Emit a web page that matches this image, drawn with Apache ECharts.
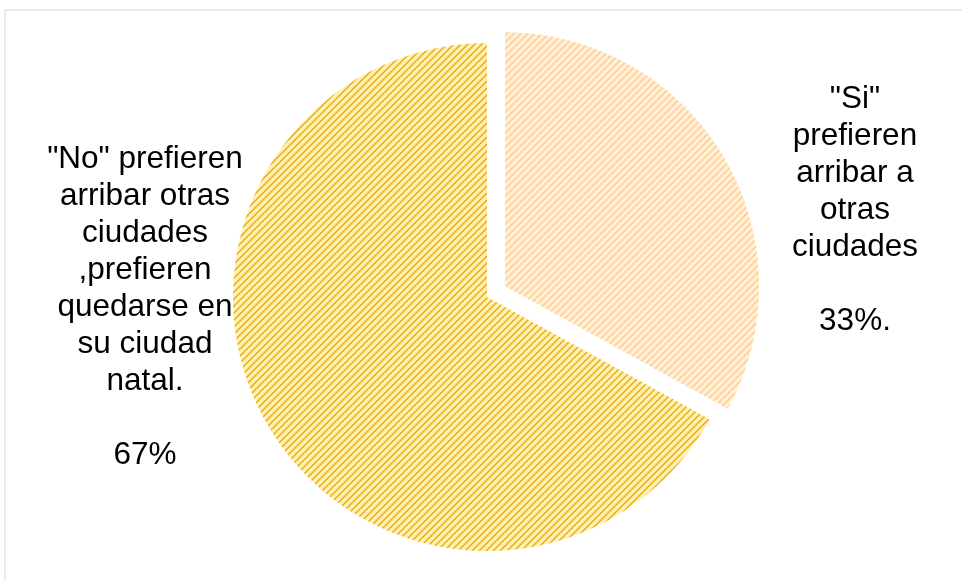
<!DOCTYPE html>
<html>
<head>
<meta charset="utf-8">
<script src="https://cdn.jsdelivr.net/npm/echarts@6/dist/echarts.min.js"></script>
<style>html,body{margin:0;padding:0;background:#fff;}#c{width:962px;height:581px;}</style>
</head>
<body>
<div id="c"></div>
<script>
var categories = ['"Si" prefieren arribar a otras ciudades', '"No" prefieren arribar otras ciudades ,prefieren quedarse en su ciudad natal.'];
var values = [33, 67];
var labelTexts = ['"Si"\nprefieren\narribar a\notras\nciudades\n\n33%.', '"No" prefieren\narribar otras\nciudades\n,prefieren\nquedarse en\nsu ciudad\nnatal.\n\n67%'];

function makePattern(bg, mid, dark) {
  var n = 7;
  var cv = document.createElement('canvas');
  cv.width = n; cv.height = n;
  var ctx = cv.getContext('2d');
  for (var x = 0; x < n; x++) {
    for (var y = 0; y < n; y++) {
      var k = (x + y) % n;
      ctx.fillStyle = k === 0 ? dark : (k === 1 || k === 6 ? mid : bg);
      ctx.fillRect(x, y, 1, 1);
    }
  }
  return { image: cv, repeat: 'repeat' };
}
var patterns = [
  makePattern('#FFF1DE', '#FFDDAE', '#FFC77C'),
  makePattern('#FFEFB4', '#F6D060', '#E6AA08')
];
var labelPos = [[855, 81], [145, 141]];

var chart = echarts.init(document.getElementById('c'));
var graphics = [{
  type: 'rect', shape: { x: 5, y: 10, width: 1000, height: 700 },
  style: { fill: 'none', stroke: '#d9d9d9', lineWidth: 1 }, silent: true, z: -1
}];
labelTexts.forEach(function (t, i) {
  graphics.push({
    type: 'text', x: labelPos[i][0], y: labelPos[i][1], silent: true,
    style: {
      text: t, fill: '#000', font: '31.5px "Liberation Sans", Arial, sans-serif',
      lineHeight: 37, align: 'center', verticalAlign: 'top'
    }
  });
});
chart.setOption({
  animation: false,
  graphic: graphics,
  series: [{
    type: 'pie',
    center: [487, 297],
    radius: 254,
    startAngle: 90,
    clockwise: true,
    selectedMode: 'single',
    selectedOffset: 21,
    emphasis: { disabled: true },
    label: { show: false },
    labelLine: { show: false },
    data: categories.map(function (c, i) {
      return { name: c, value: values[i], selected: i === 0, itemStyle: { color: patterns[i] } };
    })
  }]
});
</script>
</body>
</html>
